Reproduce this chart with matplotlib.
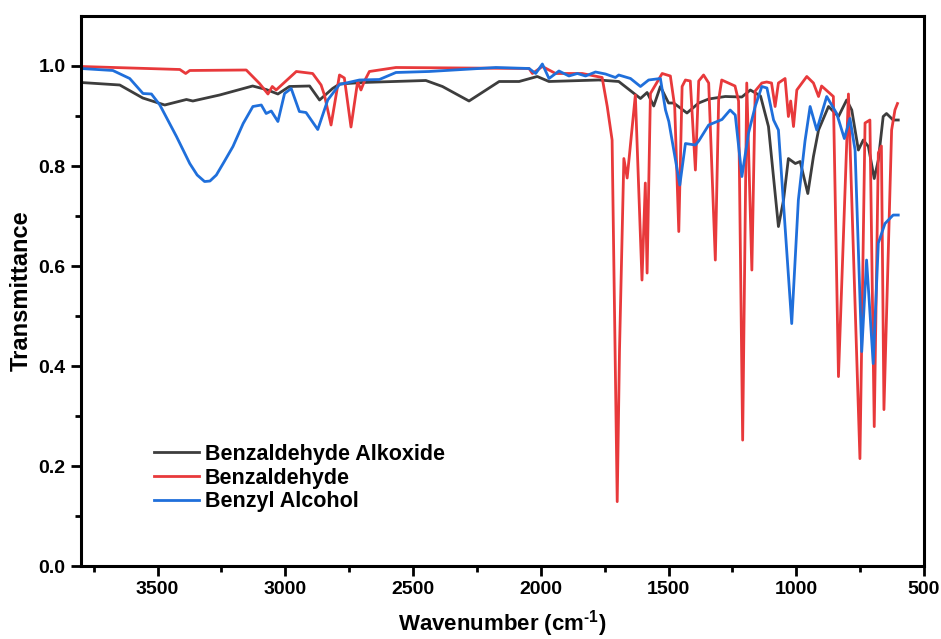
import matplotlib.pyplot as plt

plt.rcParams['font.family'] = ['Liberation Sans', 'DejaVu Sans']
plt.rcParams['font.weight'] = 'bold'
plt.rcParams['mathtext.fontset'] = 'custom'
plt.rcParams['mathtext.bf'] = 'Liberation Sans:bold'
plt.rcParams['mathtext.rm'] = 'Liberation Sans:bold'

# FTIR spectra, wavenumber (cm-1) vs transmittance
alkoxide_wn = [3800, 3648, 3558, 3472, 3387, 3362, 3257, 3128, 3075, 3029, 2984, 2905, 2866, 2815,
               2788, 2698, 2450, 2385, 2281, 2163, 2085, 2014, 1968, 1773, 1695, 1610, 1584, 1558,
               1532, 1500, 1480, 1428, 1382, 1343, 1278, 1213, 1180, 1140, 1109, 1070, 1050, 1031,
               1004, 985, 955, 933, 913, 874, 835, 803, 783, 757, 738, 718, 695, 679, 660, 647,
               621, 601]
alkoxide_t = [0.967, 0.962, 0.936, 0.922, 0.933, 0.930, 0.942, 0.960, 0.953, 0.944, 0.959, 0.960,
              0.932, 0.955, 0.964, 0.967, 0.971, 0.959, 0.930, 0.969, 0.969, 0.979, 0.969, 0.972,
              0.969, 0.935, 0.947, 0.920, 0.959, 0.926, 0.926, 0.906, 0.926, 0.934, 0.939, 0.938,
              0.952, 0.940, 0.879, 0.679, 0.732, 0.815, 0.805, 0.809, 0.745, 0.819, 0.872, 0.919,
              0.899, 0.932, 0.912, 0.832, 0.852, 0.839, 0.775, 0.812, 0.899, 0.905, 0.892, 0.892]

aldehyde_wn = [3800, 3413, 3390, 3374, 3153, 3101, 3068, 3051, 3036, 2957, 2893, 2860, 2847, 2821,
               2788, 2769, 2743, 2717, 2704, 2691, 2671, 2567, 2046, 2033, 1994, 1942, 1838, 1760,
               1740, 1721, 1701, 1692, 1675, 1662, 1630, 1604, 1591, 1584, 1571, 1525, 1493, 1476,
               1460, 1447, 1434, 1415, 1395, 1382, 1363, 1343, 1317, 1304, 1292, 1240, 1226, 1210,
               1194, 1174, 1161, 1135, 1116, 1097, 1083, 1070, 1044, 1031, 1022, 1011, 998, 959,
               933, 913, 901, 855, 835, 796, 751, 731, 712, 695, 679, 667, 657, 627, 614, 604]
aldehyde_t = [0.999, 0.993, 0.985, 0.991, 0.992, 0.965, 0.944, 0.959, 0.952, 0.989, 0.985, 0.962,
              0.942, 0.882, 0.982, 0.976, 0.878, 0.969, 0.952, 0.969, 0.989, 0.997, 0.995, 0.985,
              0.999, 0.985, 0.985, 0.977, 0.919, 0.852, 0.129, 0.432, 0.815, 0.776, 0.942, 0.572,
              0.766, 0.586, 0.945, 0.985, 0.980, 0.919, 0.669, 0.959, 0.972, 0.970, 0.792, 0.970,
              0.982, 0.966, 0.612, 0.932, 0.972, 0.960, 0.930, 0.252, 0.966, 0.592, 0.950, 0.966,
              0.968, 0.966, 0.919, 0.966, 0.975, 0.899, 0.930, 0.879, 0.952, 0.979, 0.966, 0.939,
              0.960, 0.939, 0.379, 0.944, 0.215, 0.886, 0.892, 0.279, 0.826, 0.840, 0.313, 0.872,
              0.912, 0.925]

alcohol_wn = [3800, 3675, 3609, 3557, 3524, 3491, 3426, 3374, 3345, 3316, 3295, 3270, 3240, 3205,
              3165, 3127, 3094, 3075, 3055, 3029, 3003, 2977, 2945, 2919, 2873, 2834, 2788, 2710,
              2632, 2567, 2437, 2307, 2176, 2046, 2020, 1994, 1968, 1929, 1890, 1857, 1825, 1786,
              1747, 1708, 1695, 1649, 1610, 1578, 1532, 1512, 1499, 1456, 1434, 1395, 1382, 1343,
              1291, 1259, 1239, 1213, 1187, 1161, 1135, 1115, 1089, 1070, 1018, 992, 966, 946,
              920, 881, 842, 812, 790, 770, 744, 725, 699, 679, 653, 621, 601]
alcohol_t = [0.995, 0.991, 0.975, 0.945, 0.944, 0.922, 0.859, 0.805, 0.782, 0.769, 0.770, 0.782,
             0.808, 0.839, 0.885, 0.919, 0.922, 0.905, 0.910, 0.889, 0.945, 0.955, 0.909, 0.907,
             0.873, 0.932, 0.963, 0.972, 0.973, 0.987, 0.989, 0.993, 0.997, 0.995, 0.985, 1.004,
             0.975, 0.990, 0.980, 0.985, 0.980, 0.988, 0.984, 0.977, 0.982, 0.975, 0.959, 0.972,
             0.975, 0.912, 0.889, 0.762, 0.845, 0.842, 0.850, 0.882, 0.893, 0.912, 0.902, 0.779,
             0.866, 0.919, 0.959, 0.956, 0.892, 0.872, 0.485, 0.732, 0.850, 0.919, 0.872, 0.939,
             0.905, 0.855, 0.895, 0.832, 0.429, 0.612, 0.405, 0.646, 0.685, 0.702, 0.702]

fig = plt.figure(figsize=(9.41, 6.39), dpi=100)
ax = fig.add_axes([0.086, 0.114, 0.896, 0.861])

ax.plot(alkoxide_wn, alkoxide_t, color='#3d3d3d', lw=2.0, label='Benzaldehyde Alkoxide')
ax.plot(aldehyde_wn, aldehyde_t, color='#e8393b', lw=2.0, label='Benzaldehyde')
ax.plot(alcohol_wn, alcohol_t, color='#1f6fdb', lw=2.0, label='Benzyl Alcohol')

ax.set_xlim(3800, 500)
ax.set_ylim(0, 1.1)
ax.set_xticks([3500, 3000, 2500, 2000, 1500, 1000, 500])
ax.set_xticks([3750, 3250, 2750, 2250, 1750, 1250, 750], minor=True)
ax.set_yticks([0.0, 0.2, 0.4, 0.6, 0.8, 1.0])
ax.set_yticks([0.1, 0.3, 0.5, 0.7, 0.9], minor=True)
ax.yaxis.set_major_formatter(plt.FormatStrFormatter('%.1f'))

for s in ax.spines.values():
    s.set_linewidth(2.2)
ax.tick_params(which='major', direction='out', length=7, width=2.0, labelsize=14, pad=4)
ax.tick_params(which='minor', direction='out', length=4, width=2.0)
for lab in ax.get_xticklabels() + ax.get_yticklabels():
    lab.set_fontweight('bold')

ax.set_xlabel('Wavenumber (cm$^{\\mathbf{\u2010}1}$)', fontsize=16, fontweight='bold', labelpad=7)
ax.set_ylabel('Transmittance', fontsize=17, fontweight='bold', labelpad=4)

ax.legend(loc='upper left', bbox_to_anchor=(0.087, 0.222), frameon=False, fontsize=15.5,
          handlelength=2.1, handletextpad=0.25, labelspacing=0.12, borderpad=0, borderaxespad=0)

plt.savefig('out.png')
